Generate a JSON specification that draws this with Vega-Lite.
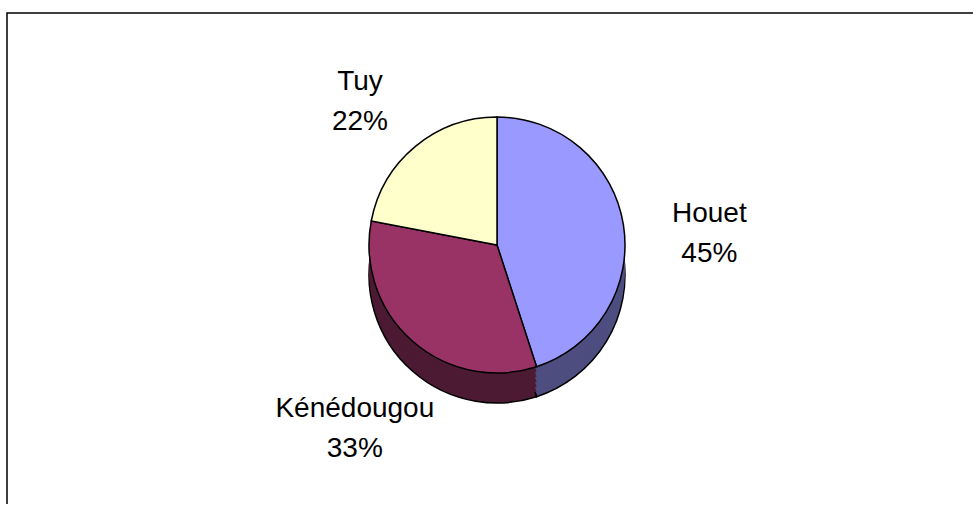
{
  "$schema": "https://vega.github.io/schema/vega-lite/v6.json",
  "width": 966,
  "height": 491,
  "autosize": {"type": "none"},
  "padding": {"left": 7, "top": 13, "right": 0, "bottom": 0},
  "background": "white",
  "view": {"stroke": "black", "strokeWidth": 1.5, "strokeDash": [966, 1457, 491], "fill": "white"},
  "data": {"values": [
    {"region": "Houet", "share": 45, "order": 1},
    {"region": "Kénédougou", "share": 33, "order": 2},
    {"region": "Tuy", "share": 22, "order": 3}
  ]},
  "encoding": {
    "theta": {"field": "share", "type": "quantitative", "stack": true},
    "order": {"field": "order", "type": "quantitative"}
  },
  "layer": [
    {"mark": {"type": "arc", "outerRadius": 128, "xOffset": 7, "yOffset": 16.5, "stroke": "black", "strokeWidth": 1.5},
     "encoding": {"color": {"field": "region", "type": "nominal", "scale": {"domain": ["Houet", "Kénédougou", "Tuy"], "range": ["#4D4D80", "#4D1A33", "#80806A"]}, "legend": null}}},
    {"mark": {"type": "arc", "outerRadius": 128, "xOffset": 7, "yOffset": 11.5, "strokeWidth": 0},
     "encoding": {"color": {"field": "region", "type": "nominal", "scale": {"domain": ["Houet", "Kénédougou", "Tuy"], "range": ["#4D4D80", "#4D1A33", "#80806A"]}, "legend": null}}},
    {"mark": {"type": "arc", "outerRadius": 128, "xOffset": 7, "yOffset": 6.5, "strokeWidth": 0},
     "encoding": {"color": {"field": "region", "type": "nominal", "scale": {"domain": ["Houet", "Kénédougou", "Tuy"], "range": ["#4D4D80", "#4D1A33", "#80806A"]}, "legend": null}}},
    {"mark": {"type": "arc", "outerRadius": 128, "xOffset": 7, "yOffset": 1.5, "strokeWidth": 0},
     "encoding": {"color": {"field": "region", "type": "nominal", "scale": {"domain": ["Houet", "Kénédougou", "Tuy"], "range": ["#4D4D80", "#4D1A33", "#80806A"]}, "legend": null}}},
    {"mark": {"type": "arc", "outerRadius": 128, "xOffset": 7, "yOffset": -3.5, "strokeWidth": 0},
     "encoding": {"color": {"field": "region", "type": "nominal", "scale": {"domain": ["Houet", "Kénédougou", "Tuy"], "range": ["#4D4D80", "#4D1A33", "#80806A"]}, "legend": null}}},
    {"mark": {"type": "arc", "outerRadius": 128, "xOffset": 7, "yOffset": -8.5, "strokeWidth": 0},
     "encoding": {"color": {"field": "region", "type": "nominal", "scale": {"domain": ["Houet", "Kénédougou", "Tuy"], "range": ["#4D4D80", "#4D1A33", "#80806A"]}, "legend": null}}},
    {"mark": {"type": "arc", "outerRadius": 128, "xOffset": 7, "yOffset": -13.5, "stroke": "black", "strokeWidth": 1.5},
     "encoding": {"color": {"field": "region", "type": "nominal", "scale": {"domain": ["Houet", "Kénédougou", "Tuy"], "range": ["#9999FF", "#993366", "#FFFFCC"]}, "legend": null}}},
    {"transform": [{"calculate": "[datum.region, datum.share + '%']", "as": "label"}],
     "mark": {"type": "text", "radius": 215, "xOffset": 7, "yOffset": -10.5, "fontSize": 28, "font": "Liberation Sans", "lineHeight": 40, "baseline": "middle", "color": "black"},
     "encoding": {"text": {"field": "label"}}}
  ],
  "resolve": {"scale": {"color": "independent"}}
}
